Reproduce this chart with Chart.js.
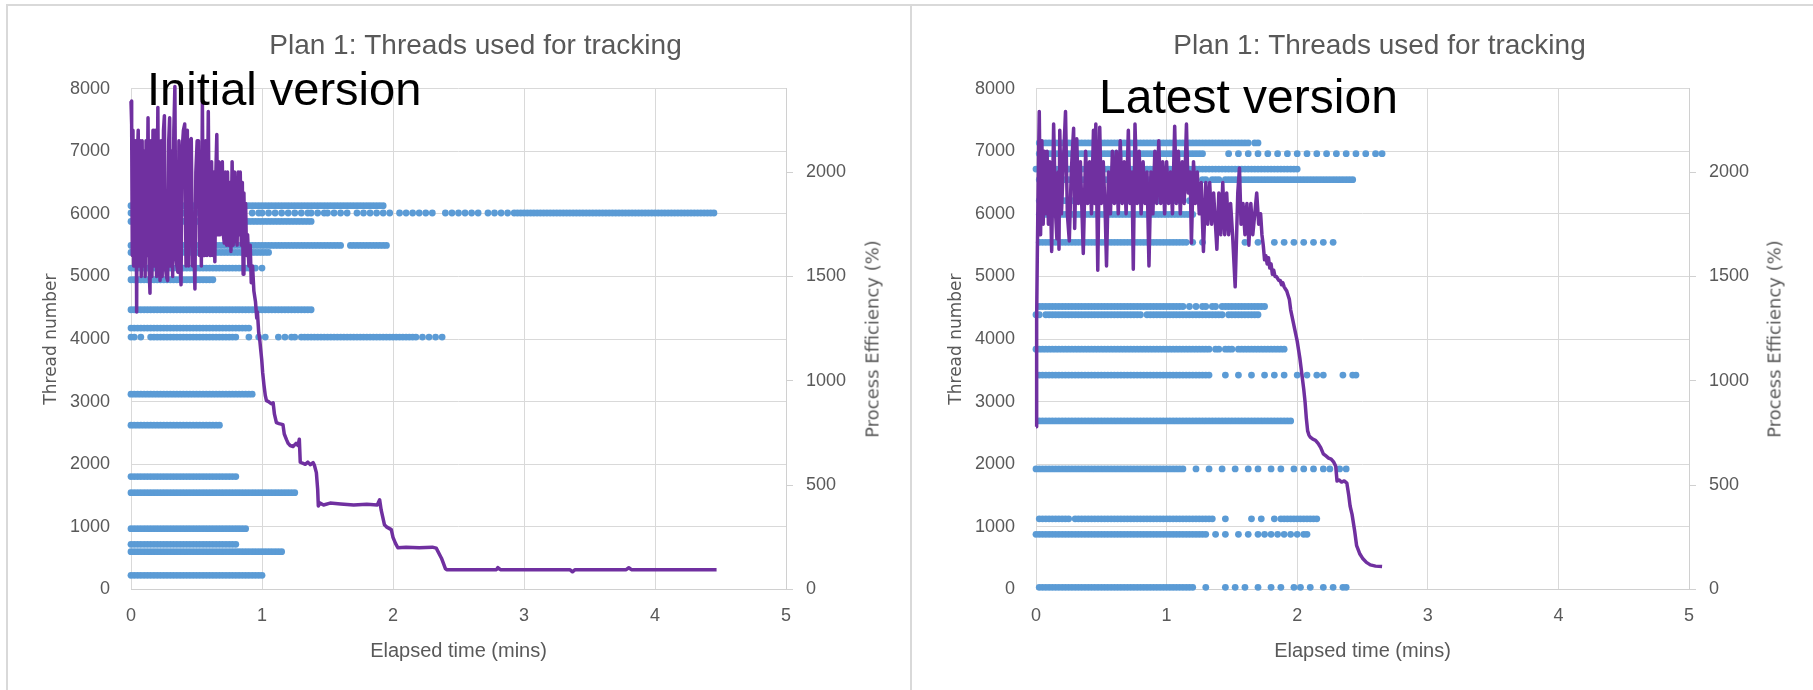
<!DOCTYPE html>
<html>
<head>
<meta charset="utf-8">
<title>Plan 1: Threads used for tracking</title>
<script src="https://cdn.jsdelivr.net/npm/chart.js@4.4.0/dist/chart.umd.min.js"></script>
<style>
  html, body { margin: 0; padding: 0; background: #fff; width: 1813px; height: 690px; overflow: hidden; }
  .panel { position: absolute; top: 4px; height: 700px; box-sizing: border-box;
           border-top: 2px solid #d9d9d9; border-left: 2px solid #d9d9d9; }
  #panel-left { left: 6px; width: 904px; }
  #panel-right { left: 910px; width: 910px; }
  canvas { position: absolute; top: 6px; }
  #chart-left { left: 8px; }
  #chart-right { left: 913px; }
  .note { position: absolute; font-family: 'Liberation Sans', Arial, sans-serif; color: #000;
          line-height: 1; white-space: nowrap; }
  .y2-title { position: absolute; font: 18px 'DejaVu Sans', sans-serif; color: #595959; white-space: nowrap;
              transform: translate(-50%, -50%) rotate(-90deg); }
</style>
</head>
<body>
<div class="panel" id="panel-left"></div>
<div class="panel" id="panel-right"></div>
<canvas id="chart-left" width="902" height="684"></canvas>
<canvas id="chart-right" width="900" height="684"></canvas>
<div class="note" style="left:147px; top:65px; font-size:47px;">Initial version</div>
<div class="note" style="left:1099px; top:73px; font-size:48px;">Latest version</div>
<div class="y2-title" style="left:872px; top:339px;">Process Efficiency (%)</div>
<div class="y2-title" style="left:1774px; top:339px;">Process Efficiency (%)</div>

<script>
// Axis ticks
const timeTicks = [0, 1, 2, 3, 4, 5];
const threadTicks = [0, 1000, 2000, 3000, 4000, 5000, 6000, 7000, 8000];
const effTicks = [0, 500, 1000, 1500, 2000];

// Dot rows: one character per 0.025 min, 'o' = thread seen at that time (spaces only group quarter minutes)
const SLOT = 0.025;

const leftThreads = [6130, 6013, 5879, 5496, 5384, 5134, 4947, 4468, 4175, 4031, 3120, 2625, 1803, 1547, 972, 722, 604, 227];
const leftRows = [
  "oooooooooo oooooooooo oooooooooo oooooooooo oooooooooo oooooooooo oooooooooo oooooooo",
  "o-o-oo-o-o o-o-o-o-oo -o-o-o-o-o o-o-o--o-o o-o-o-o-o- o-o-oo-o-o o-o-o-o--o -o-o-o-o-o --o-o-o-o- o-o---o-o- o-o-o-o--o -o-o-o-ooo oooooooooo oooooooooo oooooooooo oooooooooo oooooooooo ooooooooo",
  "oooooooooo oooooooooo oooooooooo oooooooooo oooooooooo oooooo",
  "oooooooooo oooooooooo oooooooooo oooooooooo oooooooooo oooooooooo ooooo--ooo ooooooooo",
  "oooooooooo oooooooooo oooooooooo oooooooooo ooo",
  "oooooooooo oooooooooo oooooooooo ooooooo-o- o",
  "oooooooooo oooooooooo oooooo",
  "oooooooooo oooooooooo oooooooooo oooooooooo oooooooooo oooooo",
  "oooooooooo oooooooooo oooooooooo ooooooo",
  "oo-o--oooo oooooooooo oooooooooo ooo---o--o -o---o-o-o o-oooooooo oooooooooo oooooooooo oooooooo-o -o-o-o",
  "oooooooooo oooooooooo oooooooooo oooooooo",
  "oooooooooo oooooooooo oooooooo",
  "oooooooooo oooooooooo oooooooooo ooo",
  "oooooooooo oooooooooo oooooooooo oooooooooo oooooooooo o",
  "oooooooooo oooooooooo oooooooooo oooooo",
  "oooooooooo oooooooooo oooooooooo ooo",
  "oooooooooo oooooooooo oooooooooo oooooooooo ooooooo",
  "oooooooooo oooooooooo oooooooooo oooooooooo o"
];

const rightThreads = [7132, 6961, 6714, 6546, 6210, 5990, 5545, 4520, 4388, 3839, 3424, 2692, 1926, 1128, 882, 35];
const rightRows = [
  "-ooooooooo oooooooooo oooooooooo oooooooooo oooooooooo oooooooooo oooooo-oo",
  "-ooooooooo oooooooooo oooooooooo oooooooooo oooooooooo oo-------o --o--o--o- -o--o--o-- o--o--o--o --o--o--o- -o--o-o",
  "oooooooooo oooooooooo oooooooooo oooooooooo oooooooooo oooooooooo oooooooooo oooooooooo o",
  "-ooooooooo oooooooooo oooooooooo oooooooooo oooo-oo-oo -oo-ooo-oo oooooooooo oooooooooo oooooooooo oooooooo",
  "-ooooooooo oooooooooo oooooooooo oooooooooo o-o-o--o",
  "-ooooooooo oooooooooo oooooooooo oooooooooo ooooooooo",
  "-ooooooooo oooooooooo oooooooooo oooooooooo ooooooo-o- -o-------- ----o---o- ---o--o--o --o--o--o- -o",
  "-ooooooooo oooooooooo oooooooooo oooooooooo oooooo-o-o -oo-oo-ooo oooooooooo o",
  "oo-ooooooo oooooooooo oooooooooo ooo-oooooo oooooooooo oooooooo-o ooooooooo",
  "oooooooooo oooooooooo oooooooooo oooooooooo oooooooooo oooo-oo-oo o-oooooooo ooooooo",
  "-ooooooooo oooooooooo oooooooooo oooooooooo oooooooooo oooo----o- --o---o--- o--o--o--- o--o--o-o- ----o--oo-",
  "-ooooooooo oooooooooo oooooooooo oooooooooo oooooooooo oooooooooo oooooooooo ooooooooo",
  "oooooooooo oooooooooo oooooooooo oooooooooo oooooo---o ---o---o-- -o---o--o- --o--o---o --o--o--o- o--o-o",
  "-ooooooooo o-oooooooo oooooooooo oooooooooo oooooooooo ooooo---o- ------o--o ---o-ooooo ooooooo",
  "oooooooooo oooooooooo oooooooooo oooooooooo oooooooooo ooo--o--o- --o--o--o- o-o-o-o-o- o-oo",
  "-ooooooooo oooooooooo oooooooooo oooooooooo ooooooooo- --o-----o- -o--o---o- --o--o---o -o--o---o- -o--oo"
];

// Process efficiency (%) over elapsed time (mins)
const leftEffTime = [
  0, 0.005, 0.01, 0.015, 0.02, 0.025, 0.03, 0.038, 0.043, 0.048,
  0.055, 0.062, 0.07, 0.078, 0.085, 0.092, 0.1, 0.108, 0.115, 0.12,
  0.13, 0.138, 0.145, 0.152, 0.16, 0.168, 0.175, 0.185, 0.195, 0.205,
  0.212, 0.222, 0.23, 0.238, 0.248, 0.255, 0.262, 0.27, 0.28, 0.288,
  0.295, 0.302, 0.31, 0.318, 0.327, 0.335, 0.342, 0.35, 0.358, 0.366,
  0.374, 0.382, 0.39, 0.4, 0.41, 0.42, 0.43, 0.44, 0.45, 0.46,
  0.47, 0.48, 0.488, 0.495, 0.505, 0.515, 0.523, 0.53, 0.537, 0.545,
  0.552, 0.56, 0.57, 0.58, 0.59, 0.598, 0.605, 0.615, 0.625, 0.635,
  0.64, 0.648, 0.655, 0.662, 0.67, 0.68, 0.69, 0.697, 0.705, 0.712,
  0.72, 0.73, 0.737, 0.745, 0.755, 0.763, 0.772, 0.78, 0.79, 0.8,
  0.81, 0.818, 0.826, 0.834, 0.842, 0.85, 0.856, 0.862, 0.868, 0.875,
  0.882, 0.89, 0.9, 0.91, 0.918, 0.928, 0.938, 0.95, 0.96, 0.965,
  0.975, 0.983, 0.99, 0.998, 1.005, 1.015, 1.025, 1.034, 1.05, 1.07,
  1.085, 1.095, 1.11, 1.13, 1.16, 1.17, 1.187, 1.2, 1.215, 1.237,
  1.26, 1.275, 1.285, 1.292, 1.31, 1.33, 1.35, 1.37, 1.39, 1.4,
  1.415, 1.425, 1.43, 1.44, 1.47, 1.52, 1.6, 1.7, 1.8, 1.88,
  1.898, 1.91, 1.935, 1.95, 1.987, 2.0, 2.02, 2.037, 2.1, 2.2,
  2.3, 2.33, 2.37, 2.4, 2.41, 2.6, 2.79, 2.8, 2.82, 3.35,
  3.37, 3.39, 3.78, 3.8, 3.82, 4.47
];
const leftEffValue = [
  2340, 2230, 1600, 2200, 1550, 2150, 1600, 2150, 1330, 2050,
  2200, 1550, 2150, 1500, 2150, 1550, 2100, 1500, 2150, 1600,
  2260, 1550, 1420, 2150, 1500, 2200, 1550, 2200, 1500, 2310,
  1600, 1480, 2150, 1500, 2200, 2270, 1550, 1500, 1480, 2150,
  2260, 1550, 2100, 1500, 2200, 2410, 1600, 1550, 1520, 2150,
  1550, 1460, 2100, 2200, 2230, 1550, 2200, 1550, 2150, 2160,
  1550, 1650, 1440, 2000, 2150, 2150, 1600, 2100, 1550, 2340,
  1650, 1600, 2150, 1600, 2290, 1650, 1600, 2050, 1600, 2000,
  1570, 2000, 2180, 1700, 2050, 1700, 2000, 2050, 1700, 1660,
  2000, 1650, 2000, 1650, 1950, 1620, 2050, 1650, 2000, 1700,
  1650, 2000, 1700, 2000, 1650, 1950, 1510, 1900, 1660, 1850,
  1600, 1700, 1550, 1650, 1470, 1550, 1430, 1380, 1300, 1330,
  1230, 1195, 1150, 1100, 1040, 980, 930, 905, 900, 890,
  895, 840, 800, 795, 790, 745, 718, 700, 690, 685,
  700, 690, 720, 610, 605, 600, 610, 598, 608, 595,
  560, 480, 400, 415, 405, 414, 410, 405, 408, 405,
  430, 380, 310, 300, 287, 250, 220, 200, 202, 200,
  203, 198, 150, 100, 95, 95, 95, 105, 95, 95,
  85, 95, 95, 104, 95, 95
];

const rightEffTime = [
  0, 0.005, 0.01, 0.018, 0.025, 0.035, 0.045, 0.055, 0.065, 0.075,
  0.085, 0.095, 0.105, 0.12, 0.135, 0.15, 0.16, 0.17, 0.176, 0.182,
  0.195, 0.21, 0.226, 0.24, 0.255, 0.27, 0.288, 0.296, 0.312, 0.325,
  0.34, 0.362, 0.38, 0.395, 0.41, 0.425, 0.44, 0.45, 0.458, 0.473,
  0.488, 0.5, 0.515, 0.53, 0.54, 0.555, 0.57, 0.585, 0.6, 0.615,
  0.63, 0.645, 0.66, 0.675, 0.69, 0.707, 0.72, 0.735, 0.745, 0.758,
  0.775, 0.79, 0.805, 0.82, 0.835, 0.85, 0.865, 0.88, 0.895, 0.91,
  0.925, 0.94, 0.955, 0.97, 0.985, 1.0, 1.015, 1.03, 1.045, 1.062,
  1.075, 1.09, 1.105, 1.12, 1.135, 1.152, 1.165, 1.18, 1.19, 1.206,
  1.22, 1.235, 1.25, 1.265, 1.282, 1.3, 1.315, 1.33, 1.345, 1.36,
  1.385, 1.4, 1.415, 1.43, 1.445, 1.46, 1.475, 1.49, 1.505, 1.525,
  1.545, 1.558, 1.57, 1.585, 1.6, 1.615, 1.63, 1.645, 1.66, 1.675,
  1.69, 1.705, 1.72, 1.73,
  1.74, 1.75, 1.76, 1.77, 1.78, 1.79, 1.8, 1.81, 1.82,
  1.83, 1.84, 1.85, 1.86, 1.87, 1.88, 1.89, 1.9, 1.91, 1.92,
  1.93, 1.94, 1.95, 1.96, 1.97, 1.98, 1.99, 2.0, 2.01, 2.02,
  2.03, 2.04, 2.05, 2.06, 2.07, 2.08, 2.09, 2.1, 2.12, 2.14,
  2.16, 2.18, 2.2, 2.22, 2.24, 2.26, 2.28, 2.295, 2.305, 2.32,
  2.34, 2.36, 2.38, 2.395, 2.405, 2.42, 2.44, 2.455, 2.48, 2.5,
  2.53, 2.56, 2.6, 2.65
];
const rightEffValue = [
  780, 1300, 1600, 2000, 2290, 1700, 2150, 1750, 2100, 1800,
  2100, 1750, 2050, 1620, 2230, 1800, 1680, 2000, 1630, 2200,
  1800, 2050, 2290, 1800, 1670, 2000, 2210, 1730, 2160, 1850,
  2050, 1610, 2100, 1850, 2050, 1800, 2200, 1850, 2230, 1530,
  2215, 1850, 2050, 1800, 1550, 2000, 1800, 2100, 1850, 2100,
  1800, 2150, 1850, 2050, 1800, 2200, 1850, 2000, 1535, 2230,
  1850, 2100, 1800, 2050, 1850, 2000, 1550, 2000, 1800, 2100,
  1850, 2150, 1850, 2050, 1800, 2050, 1850, 2000, 1800, 2220,
  1850, 2100, 1800, 2050, 1850, 2230, 1900, 2000, 1660, 2050,
  1850, 2000, 1800, 1950, 1620, 1950, 1750, 1950, 1750, 1900,
  1630, 1900, 1700, 1950, 1700, 1900, 1700, 1850, 1700, 1450,
  1900, 2020, 1750, 1850, 1700, 1850, 1650, 1850, 1700, 1800,
  1900, 1750, 1800, 1700,
  1650, 1580, 1600, 1560, 1590, 1540, 1560, 1510, 1530,
  1500, 1500, 1490, 1480, 1480, 1460, 1470, 1450, 1440, 1430,
  1410, 1390, 1340, 1310, 1280, 1250, 1220, 1190, 1150, 1110,
  1060, 1010, 960, 900, 820, 760, 740, 730, 720, 715,
  700, 680, 650, 640, 630, 625, 610, 590, 520, 525,
  515, 520, 510, 450, 400, 360, 280, 210, 170, 150,
  130, 118, 112, 110
];

const FONT = "'Liberation Sans', Arial, sans-serif";
const GREY_TEXT = '#595959';

// Turn the dot rows into scatter points
function rowPoints(threads, rows) {
  const points = [];
  rows.forEach((row, i) => {
    const cells = row.replace(/ /g, '');
    for (let j = 0; j < cells.length; j++) {
      if (cells[j] === 'o') points.push({ x: j * SLOT, y: threads[i] });
    }
  });
  return points;
}

function fixedTicks(values) {
  return (scale) => { scale.ticks = values.map((v) => ({ value: v })); };
}

function makeChart(canvasId, threads, rows, effTime, effValue) {
  const effPoints = effTime.map((t, i) => ({ x: t, y: effValue[i] }));
  return new Chart(document.getElementById(canvasId), {
    type: 'scatter',
    data: {
      datasets: [
        {
          type: 'line',
          data: effPoints,
          yAxisID: 'y2',
          showLine: true,
          borderColor: '#7030A0',
          borderWidth: 3.5,
          borderJoinStyle: 'round',
          pointRadius: 0,
          tension: 0,
          order: 0,
          clip: false
        },
        {
          data: rowPoints(threads, rows),
          yAxisID: 'y',
          backgroundColor: '#5B9BD5',
          borderWidth: 0,
          pointRadius: 3.4,
          order: 1,
          clip: false
        }
      ]
    },
    options: {
      responsive: false,
      animation: false,
      devicePixelRatio: 1,
      events: [],
      layout: { padding: { left: 33, right: 0, top: 0, bottom: 27 } },
      plugins: {
        legend: { display: false },
        tooltip: { enabled: false },
        title: {
          display: true,
          text: 'Plan 1: Threads used for tracking',
          color: GREY_TEXT,
          font: { family: FONT, size: 28, weight: 'normal' },
          padding: { top: 23, bottom: 26 }
        }
      },
      scales: {
        x: {
          type: 'linear',
          min: 0,
          max: 5,
          afterBuildTicks: fixedTicks(timeTicks),
          afterFit: (scale) => { scale.height = 73.5; },
          ticks: { color: GREY_TEXT, font: { family: FONT, size: 18 }, padding: 16, callback: (v) => String(v) },
          grid: { color: '#d9d9d9', drawTicks: false },
          border: { color: '#d0d0d0' },
          title: { display: true, text: 'Elapsed time (mins)', color: GREY_TEXT, font: { family: FONT, size: 20 }, padding: 0 }
        },
        y: {
          position: 'left',
          min: 0,
          max: 8000,
          afterBuildTicks: fixedTicks(threadTicks),
          afterFit: (scale) => { scale.width = 90; },
          ticks: { color: GREY_TEXT, font: { family: FONT, size: 18 }, padding: 21, callback: (v) => String(v) },
          grid: { color: '#d9d9d9', drawTicks: false },
          border: { display: false },
          title: { display: true, text: 'Thread number', color: GREY_TEXT, font: { family: "'DejaVu Sans', sans-serif", size: 17 }, padding: 0 }
        },
        y2: {
          position: 'right',
          min: 0,
          max: 2400,
          afterBuildTicks: fixedTicks(effTicks),
          afterFit: (scale) => { scale.width = 124; },
          ticks: { color: GREY_TEXT, font: { family: FONT, size: 18 }, padding: 13, callback: (v) => String(v) },
          grid: { drawOnChartArea: false, color: '#d0d0d0', tickLength: 7 },
          border: { color: '#d0d0d0' }
        }
      }
    }
  });
}

makeChart('chart-left', leftThreads, leftRows, leftEffTime, leftEffValue);
makeChart('chart-right', rightThreads, rightRows, rightEffTime, rightEffValue);
</script>
</body>
</html>
